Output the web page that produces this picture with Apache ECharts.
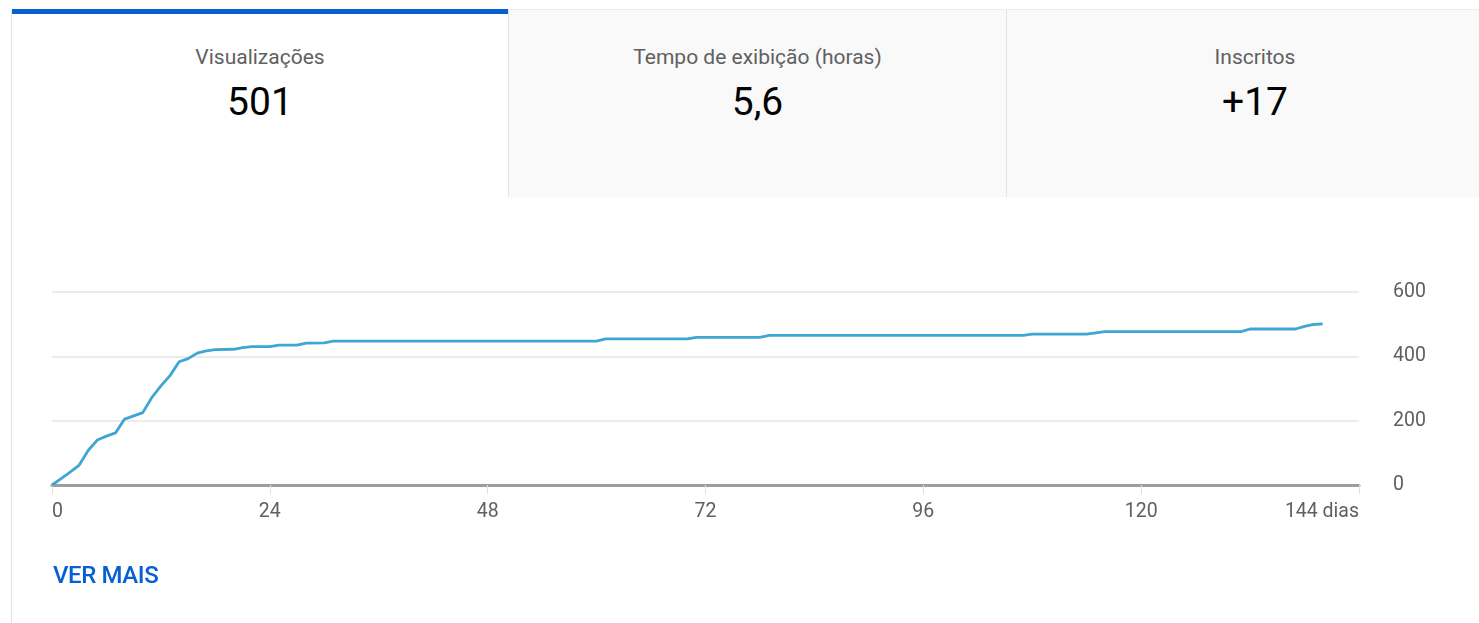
<!DOCTYPE html>
<html>
<head>
<meta charset="utf-8">
<script src="https://cdn.jsdelivr.net/npm/echarts@6/dist/echarts.min.js"></script>
<style>
  html, body { margin: 0; padding: 0; background: #ffffff; width: 1479px; height: 623px; overflow: hidden; font-family: Roboto, "Noto Sans", Arial, sans-serif; }
  #card-left { position: absolute; left: 11px; top: 10px; width: 1px; height: 613px; background: #e3e3e3; }
  .tab { position: absolute; top: 9px; height: 188px; box-sizing: border-box; text-align: center; }
  #tab1 { left: 12px; width: 496px; background: #ffffff; border-top: 5px solid #065fd4; }
  #tab2 { left: 508px; width: 498px; background: #f9f9f9; border-left: 1px solid #e3e3e3; border-top: 1px solid #ececec; }
  #tab3 { left: 1006px; width: 497px; background: #f9f9f9; border-left: 1px solid #e3e3e3; border-top: 1px solid #ececec; }
  .ttl { position: absolute; left: 0; right: 0; top: 37px; font-size: 21px; line-height: 21px; color: #606060; }
  #tab1 .ttl { top: 33px; }
  .val { position: absolute; left: 0; right: 0; top: 73px; font-size: 39px; line-height: 39px; color: #030303; }
  #tab1 .val { top: 69px; }
  #chart { position: absolute; left: 0; top: 200px; width: 1479px; height: 423px; }
  #more { position: absolute; left: 53px; top: 562px; font-size: 24px; line-height: 26px; font-weight: 500; color: #065fd4; letter-spacing: -0.4px; }
</style>
</head>
<body>
<div id="card-left"></div>
<div class="tab" id="tab1"><div class="ttl">Visualizações</div><div class="val">501</div></div>
<div class="tab" id="tab2"><div class="ttl">Tempo de exibição (horas)</div><div class="val">5,6</div></div>
<div class="tab" id="tab3"><div class="ttl">Inscritos</div><div class="val">+17</div></div>
<div id="chart"></div>
<div id="more">VER MAIS</div>
<script>
// Cumulative views by day (breakpoints)
const days  = [0, 1, 2, 3, 4, 5, 6, 7, 8, 9, 10, 11, 12, 13, 14, 15, 16, 17, 18, 20, 21, 22, 24, 25, 27, 28, 30, 31, 60, 61, 70, 71, 78, 79, 107, 108, 114, 115, 116, 131, 132, 137, 138, 139, 140];
const views = [0, 20, 40, 62, 108, 140, 152, 162, 205, 215, 225, 272, 308, 340, 383, 393, 410, 417, 421, 422, 427, 430, 430, 435, 435, 441, 442, 447, 447, 454, 454, 459, 459, 465, 465, 469, 469, 473, 477, 477, 485, 485, 493, 499, 501];
const xTicks = [0, 24, 48, 72, 96, 120, 144];
const xUnit = 'dias';
const yTicks = [0, 200, 400, 600];

const chart = echarts.init(document.getElementById('chart'), null, { renderer: 'canvas' });
chart.setOption({
  animation: false,
  grid: { left: 52, right: 120, top: 92, bottom: 138 },
  xAxis: {
    type: 'value',
    min: xTicks[0],
    max: xTicks[xTicks.length - 1],
    interval: xTicks[1] - xTicks[0],
    axisLine: { show: true, lineStyle: { color: '#9e9e9e', width: 3 } },
    axisTick: { show: true, length: 9, lineStyle: { color: '#e0e0e0', width: 1 } },
    splitLine: { show: false },
    axisLabel: {
      color: '#606060', fontSize: 19.5, fontFamily: 'Roboto', margin: 17,
      alignMinLabel: 'left', alignMaxLabel: 'right',
      formatter: v => v === xTicks[xTicks.length - 1] ? v + ' ' + xUnit : String(v)
    }
  },
  yAxis: {
    type: 'value',
    position: 'right',
    min: yTicks[0],
    max: yTicks[yTicks.length - 1],
    interval: yTicks[1] - yTicks[0],
    axisLine: { show: false },
    axisTick: { show: false },
    splitLine: { show: true, lineStyle: { color: '#ececec', width: 2 } },
    axisLabel: { color: '#606060', fontSize: 19.5, fontFamily: 'Roboto', margin: 34, align: 'left' }
  },
  series: [{
    type: 'line',
    data: days.map((d, i) => [d, views[i]]),
    showSymbol: false,
    symbol: 'none',
    lineStyle: { color: '#3ea6d2', width: 2.8 },
    z: 5
  }]
});
</script>
</body>
</html>
